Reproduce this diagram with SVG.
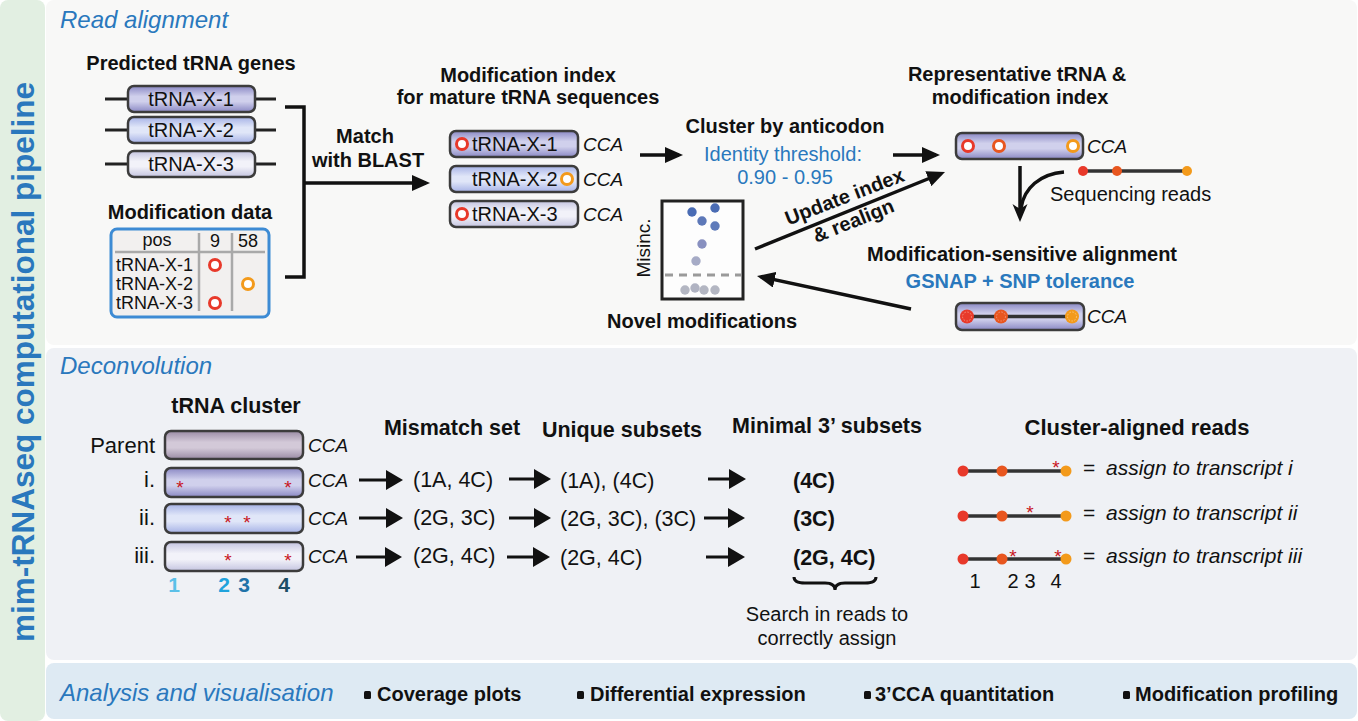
<svg xmlns="http://www.w3.org/2000/svg" width="1358" height="721" viewBox="0 0 1358 721">
<defs>
<style>
text{font-family:"Liberation Sans",Arial,Helvetica,sans-serif;fill:#111}
.b{font-weight:bold}
.i{font-style:italic}
.blue{fill:#2a78bd}
.m{text-anchor:middle}
.e{text-anchor:end}
.f20{font-size:20px}
.f21{font-size:21.5px}
.cca{font-size:19px;font-style:italic}
.box{stroke:#3c3c3c;stroke-width:2.5}
.stub{stroke:#222;stroke-width:3}
.arr{stroke:#111;stroke-width:3.5;fill:none}
.arr3{stroke:#111;stroke-width:3;fill:none}
.star{fill:#c8161d;font-size:19px}
.ring{fill:#fff;stroke-width:3}
.rd{stroke:#e8392a}.or{stroke:#e8561f}.og{stroke:#f39a1b}
.read{stroke:#333;stroke-width:3.5}
.grid{stroke:#a9a9a9;stroke-width:2.5}
</style>
<linearGradient id="gP" x1="0" y1="0" x2="0" y2="1"><stop offset="0" stop-color="#8a88c4"/><stop offset="0.4" stop-color="#d0d0ec"/><stop offset="0.6" stop-color="#d0d0ec"/><stop offset="1" stop-color="#8a88c4"/></linearGradient>
<linearGradient id="gB" x1="0" y1="0" x2="0" y2="1"><stop offset="0" stop-color="#a6b2e6"/><stop offset="0.4" stop-color="#e0e6f8"/><stop offset="0.6" stop-color="#e0e6f8"/><stop offset="1" stop-color="#a6b2e6"/></linearGradient>
<linearGradient id="gL" x1="0" y1="0" x2="0" y2="1"><stop offset="0" stop-color="#c4c4e0"/><stop offset="0.4" stop-color="#f2f2f9"/><stop offset="0.6" stop-color="#f2f2f9"/><stop offset="1" stop-color="#c4c4e0"/></linearGradient>
<linearGradient id="gM" x1="0" y1="0" x2="0" y2="1"><stop offset="0" stop-color="#9a8ba4"/><stop offset="0.4" stop-color="#d3c9d8"/><stop offset="0.6" stop-color="#d3c9d8"/><stop offset="1" stop-color="#9a8ba4"/></linearGradient>
<marker id="ah" markerUnits="userSpaceOnUse" markerWidth="20" markerHeight="16" refX="14" refY="8" orient="auto"><path d="M0,0 L18,8 L0,16 Z" fill="#111"/></marker>
<marker id="ahB" markerUnits="userSpaceOnUse" markerWidth="18" markerHeight="20" refX="13" refY="10" orient="auto"><path d="M0,0 L17,10 L0,20 Z" fill="#111"/></marker>
<marker id="ahS" markerUnits="userSpaceOnUse" markerWidth="20" markerHeight="16" refX="8" refY="7.5" orient="auto"><path d="M0,0 L18,7.5 L0,15 L5,7.5 Z" fill="#111"/></marker>
</defs>

<g id="panels">
<rect x="0" y="0" width="1358" height="721" fill="#ffffff"/>
<rect x="0" y="0" width="45" height="721" rx="8" fill="#e2efe2"/>
<rect x="46" y="0" width="1311" height="345" rx="8" fill="#f8f8f7"/>
<rect x="46" y="348" width="1311" height="312" rx="8" fill="#eff1f5"/>
<rect x="46" y="663" width="1311" height="56" rx="8" fill="#deeaf3"/>
<text x="34" y="362" class="b m blue" font-size="31.5" transform="rotate(-90 34 362)">mim-tRNAseq computational pipeline</text>
<text x="60" y="28" class="i blue" font-size="24">Read alignment</text>
<text x="60" y="374" class="i blue" font-size="24">Deconvolution</text>
<text x="60" y="701" class="i blue" font-size="24">Analysis and visualisation</text>
</g>

<g id="predicted-genes">
<text x="191" y="70" class="b m f20">Predicted tRNA genes</text>
<line x1="105" y1="99" x2="128" y2="99" class="stub"/><line x1="255" y1="99" x2="276" y2="99" class="stub"/>
<rect x="128" y="86" width="127" height="26" rx="6" fill="url(#gP)" class="box"/>
<text x="191" y="106" class="m f20">tRNA-X-1</text>
<line x1="105" y1="130" x2="128" y2="130" class="stub"/><line x1="255" y1="130" x2="276" y2="130" class="stub"/>
<rect x="128" y="117" width="127" height="26" rx="6" fill="url(#gB)" class="box"/>
<text x="191" y="137" class="m f20">tRNA-X-2</text>
<line x1="105" y1="164" x2="128" y2="164" class="stub"/><line x1="255" y1="164" x2="276" y2="164" class="stub"/>
<rect x="128" y="151" width="127" height="26" rx="6" fill="url(#gL)" class="box"/>
<text x="191" y="171" class="m f20">tRNA-X-3</text>
</g>

<g id="modification-data">
<text x="190" y="219" class="b m f20">Modification data</text>
<rect x="111" y="229" width="158" height="88" rx="6" fill="#f2f0ef" stroke="#3d8bd4" stroke-width="3"/>
<line x1="115" y1="252" x2="265" y2="252" class="grid"/>
<line x1="199" y1="233" x2="199" y2="311" class="grid"/>
<line x1="232" y1="233" x2="232" y2="311" class="grid"/>
<text x="157" y="246" class="m" font-size="18">pos</text>
<text x="215" y="247" class="m" font-size="18">9</text>
<text x="248" y="247" class="m" font-size="18">58</text>
<text x="116" y="271" font-size="18">tRNA-X-1</text>
<text x="116" y="290" font-size="18">tRNA-X-2</text>
<text x="116" y="309" font-size="18">tRNA-X-3</text>
<circle cx="215" cy="265" r="5.5" class="ring rd"/>
<circle cx="248" cy="284" r="5.5" class="ring og"/>
<circle cx="215" cy="303" r="5.5" class="ring rd"/>
</g>

<g id="match-blast">
<text x="365" y="143" class="b m f20">Match</text>
<text x="368" y="167" class="b m f20">with BLAST</text>
</g>

<g id="modification-index">
<text x="528" y="82" class="b m f20">Modification index</text>
<text x="528" y="104" class="b m f20">for mature tRNA sequences</text>
<rect x="450" y="131" width="128" height="26" rx="6" fill="url(#gP)" class="box"/>
<text x="472" y="151" class="f20">tRNA-X-1</text>
<circle cx="462" cy="144" r="5.5" class="ring rd"/>
<text x="583" y="151" class="cca">CCA</text>
<rect x="450" y="166" width="128" height="26" rx="6" fill="url(#gB)" class="box"/>
<text x="472" y="186" class="f20">tRNA-X-2</text>
<circle cx="567" cy="179" r="5.5" class="ring og"/>
<text x="583" y="186" class="cca">CCA</text>
<rect x="450" y="201" width="128" height="26" rx="6" fill="url(#gL)" class="box"/>
<text x="472" y="221" class="f20">tRNA-X-3</text>
<circle cx="462" cy="214" r="5.5" class="ring rd"/>
<text x="583" y="221" class="cca">CCA</text>
</g>

<g id="cluster-anticodon">
<text x="785" y="133" class="b m f20">Cluster by anticodon</text>
<text x="783" y="161" class="m f20 blue">Identity threshold:</text>
<text x="785" y="184" class="m f20 blue">0.90 - 0.95</text>
</g>

<g id="representative">
<text x="1017" y="81" class="b m f20">Representative tRNA &amp;</text>
<text x="1020" y="104" class="b m f20">modification index</text>
<rect x="956" y="133" width="127" height="26" rx="6" fill="url(#gP)" class="box"/>
<circle cx="968" cy="146" r="5.5" class="ring rd"/>
<circle cx="999" cy="146" r="5.5" class="ring or"/>
<circle cx="1073" cy="146" r="5.5" class="ring og"/>
<text x="1087" y="153" class="cca">CCA</text>
</g>

<g id="sequencing-reads">
<line x1="1083" y1="171" x2="1187" y2="171" class="read"/>
<circle cx="1083" cy="171" r="5" fill="#e8392a"/>
<circle cx="1117" cy="171" r="5" fill="#e8561f"/>
<circle cx="1187" cy="171" r="5" fill="#f39a1b"/>
<text x="1050" y="201" class="f20">Sequencing reads</text>
</g>

<g id="mod-sensitive-alignment">
<text x="1022" y="261" class="b m f20">Modification-sensitive alignment</text>
<text x="1020" y="288" class="b m f20 blue">GSNAP + SNP tolerance</text>
<rect x="956" y="303" width="128" height="27" rx="6" fill="url(#gP)" class="box"/>
<line x1="967" y1="316.5" x2="1072" y2="316.5" class="read"/>
<circle cx="967" cy="316.5" r="7" fill="#e8392a"/><circle cx="967" cy="316.5" r="4.5" fill="none" stroke="#f5a08a" stroke-width="0.8" stroke-dasharray="1.5 1.5"/>
<circle cx="1001" cy="316.5" r="7" fill="#e8561f"/><circle cx="1001" cy="316.5" r="4.5" fill="none" stroke="#f5a08a" stroke-width="0.8" stroke-dasharray="1.5 1.5"/>
<circle cx="1072" cy="316.5" r="7" fill="#f39a1b"/><circle cx="1072" cy="316.5" r="4.5" fill="none" stroke="#fbd08a" stroke-width="0.8" stroke-dasharray="1.5 1.5"/>
<text x="1087" y="323" class="cca">CCA</text>
</g>

<g id="novel-modifications">
<rect x="662" y="201" width="81" height="98" fill="#fdfdfd" stroke="#222" stroke-width="3"/>
<line x1="665" y1="275" x2="741" y2="275" stroke="#9a9a9a" stroke-width="3" stroke-dasharray="8 6"/>
<circle cx="692" cy="212" r="4.7" fill="#4a6cb4"/>
<circle cx="715" cy="208" r="4.7" fill="#4a6cb4"/>
<circle cx="702" cy="221" r="4.7" fill="#5d78b8"/>
<circle cx="715" cy="226" r="4.7" fill="#5f7bba"/>
<circle cx="702" cy="244" r="4.7" fill="#8890c0"/>
<circle cx="696" cy="261" r="4.7" fill="#a6abc6"/>
<circle cx="685" cy="290" r="4.7" fill="#b3b6c2"/>
<circle cx="695" cy="288" r="4.7" fill="#b0b3c2"/>
<circle cx="704" cy="290" r="4.7" fill="#b3b6c2"/>
<circle cx="715" cy="290" r="4.7" fill="#b3b6c2"/>
<text x="650" y="248" class="m" font-size="19" transform="rotate(-90 650 248)">Misinc.</text>
<text x="702" y="328" class="b m f20">Novel modifications</text>
</g>

<g id="tRNA-cluster">
<text x="236" y="413" class="b m f21">tRNA cluster</text>
<text x="155" y="453" class="e" font-size="22">Parent</text>
<text x="155" y="487" class="e" font-size="22">i.</text>
<text x="155" y="525" class="e" font-size="22">ii.</text>
<text x="155" y="563" class="e" font-size="22">iii.</text>
<rect x="165" y="431" width="138" height="28" rx="6" fill="url(#gM)" class="box"/>
<rect x="165" y="468" width="138" height="29" rx="6" fill="url(#gP)" class="box"/>
<rect x="165" y="504" width="138" height="29" rx="6" fill="url(#gB)" class="box"/>
<rect x="165" y="542" width="138" height="29" rx="6" fill="url(#gL)" class="box"/>
<text x="308" y="452" class="cca">CCA</text>
<text x="308" y="487" class="cca">CCA</text>
<text x="308" y="525" class="cca">CCA</text>
<text x="308" y="563" class="cca">CCA</text>
<text x="180" y="494" class="star m">*</text><text x="288" y="494" class="star m">*</text>
<text x="228" y="529" class="star m">*</text><text x="247" y="529" class="star m">*</text>
<text x="228" y="567" class="star m">*</text><text x="288" y="567" class="star m">*</text>
<text x="174" y="592" class="b m" font-size="21" style="fill:#5bc0e8">1</text>
<text x="224" y="592" class="b m" font-size="21" style="fill:#1fa3dc">2</text>
<text x="244" y="592" class="b m" font-size="21" style="fill:#1f73a8">3</text>
<text x="284" y="592" class="b m" font-size="21" style="fill:#1d4e66">4</text>
</g>

<g id="mismatch-set">
<text x="452" y="435" class="b m f21">Mismatch set</text>
<text x="413" y="487" class="f21">(1A, 4C)</text>
<text x="413" y="525" class="f21">(2G, 3C)</text>
<text x="413" y="563" class="f21">(2G, 4C)</text>
</g>

<g id="unique-subsets">
<text x="622" y="437" class="b m f21">Unique subsets</text>
<text x="560" y="488" class="f21">(1A), (4C)</text>
<text x="560" y="526" class="f21">(2G, 3C), (3C)</text>
<text x="560" y="565" class="f21">(2G, 4C)</text>
</g>

<g id="minimal-subsets">
<text x="827" y="433" class="b m f21">Minimal 3’ subsets</text>
<text x="793" y="488" class="b f21">(4C)</text>
<text x="793" y="526" class="b f21">(3C)</text>
<text x="793" y="565" class="b f21">(2G, 4C)</text>
<path d="M794,577 Q794,583 805,583 L825,583 Q835,583 835,590 Q835,583 845,583 L865,583 Q876,583 876,577" fill="none" stroke="#111" stroke-width="3"/>
<text x="827" y="621" class="m f20">Search in reads to</text>
<text x="827" y="645" class="m f20">correctly assign</text>
</g>

<g id="cluster-aligned-reads">
<text x="1137" y="435" class="b m" font-size="22">Cluster-aligned reads</text>
<line x1="963" y1="471" x2="1066" y2="471" class="read"/>
<circle cx="963" cy="471" r="5.5" fill="#e8392a"/><circle cx="1002" cy="471" r="5.5" fill="#e8561f"/><circle cx="1066" cy="471" r="5.5" fill="#f39a1b"/>
<text x="1056" y="474" class="star m">*</text>
<text x="1083" y="475" font-size="21">=</text>
<text x="1106" y="475" class="i" font-size="21">assign to transcript i</text>
<line x1="963" y1="516" x2="1066" y2="516" class="read"/>
<circle cx="963" cy="516" r="5.5" fill="#e8392a"/><circle cx="1002" cy="516" r="5.5" fill="#e8561f"/><circle cx="1066" cy="516" r="5.5" fill="#f39a1b"/>
<text x="1030" y="519" class="star m">*</text>
<text x="1083" y="520" font-size="21">=</text>
<text x="1106" y="520" class="i" font-size="21">assign to transcript ii</text>
<line x1="963" y1="559" x2="1066" y2="559" class="read"/>
<circle cx="963" cy="559" r="5.5" fill="#e8392a"/><circle cx="1002" cy="559" r="5.5" fill="#e8561f"/><circle cx="1066" cy="559" r="5.5" fill="#f39a1b"/>
<text x="1013" y="563" class="star m">*</text><text x="1058" y="563" class="star m">*</text>
<text x="1083" y="563" font-size="21">=</text>
<text x="1106" y="563" class="i" font-size="21">assign to transcript iii</text>
<text x="975" y="588" class="m" font-size="20">1</text>
<text x="1013" y="588" class="m" font-size="20">2</text>
<text x="1030" y="588" class="m" font-size="20">3</text>
<text x="1056" y="588" class="m" font-size="20">4</text>
</g>

<g id="analysis-items">
<rect x="364" y="691" width="7" height="8" rx="1.5" fill="#111"/>
<text x="377" y="701" class="b" font-size="20">Coverage plots</text>
<rect x="577" y="691" width="7" height="8" rx="1.5" fill="#111"/>
<text x="590" y="701" class="b" font-size="20">Differential expression</text>
<rect x="864" y="691" width="7" height="8" rx="1.5" fill="#111"/>
<text x="875" y="701" class="b" font-size="20">3’CCA quantitation</text>
<rect x="1123" y="691" width="7" height="8" rx="1.5" fill="#111"/>
<text x="1135" y="701" class="b" font-size="20">Modification profiling</text>
</g>

<g id="connectors">
<path d="M285,107 H304 V277 H285" class="arr"/>
<line x1="305" y1="183" x2="426" y2="183" class="arr" marker-end="url(#ah)"/>
<line x1="640" y1="155" x2="679" y2="155" class="arr" marker-end="url(#ah)"/>
<line x1="893" y1="155" x2="936" y2="155" class="arr" marker-end="url(#ah)"/>
<line x1="755" y1="249" x2="941.3" y2="173.5" class="arr" marker-end="url(#ah)"/>
<line x1="911" y1="309" x2="760.9" y2="276.8" class="arr" marker-end="url(#ah)"/>
<line x1="1020" y1="166" x2="1020" y2="212" class="arr" marker-end="url(#ahS)"/>
<path d="M1064,172 C1040,174 1024,188 1021,208" class="arr"/>
<text x="847" y="203" class="b m f20" transform="rotate(-21 847 203)">Update index</text>
<text x="856" y="227" class="b m f20" transform="rotate(-22 856 227)">&amp; realign</text>
<line x1="359" y1="480" x2="399" y2="480" class="arr3" marker-end="url(#ahB)"/>
<line x1="359" y1="518" x2="399" y2="518" class="arr3" marker-end="url(#ahB)"/>
<line x1="356" y1="557" x2="398" y2="557" class="arr3" marker-end="url(#ahB)"/>
<line x1="509" y1="479" x2="547" y2="479" class="arr3" marker-end="url(#ahB)"/>
<line x1="509" y1="518" x2="547" y2="518" class="arr3" marker-end="url(#ahB)"/>
<line x1="507" y1="557" x2="546" y2="557" class="arr3" marker-end="url(#ahB)"/>
<line x1="708" y1="479" x2="742" y2="479" class="arr3" marker-end="url(#ahB)"/>
<line x1="704" y1="518" x2="741" y2="518" class="arr3" marker-end="url(#ahB)"/>
<line x1="706" y1="557" x2="741" y2="557" class="arr3" marker-end="url(#ahB)"/>
</g>
</svg>
